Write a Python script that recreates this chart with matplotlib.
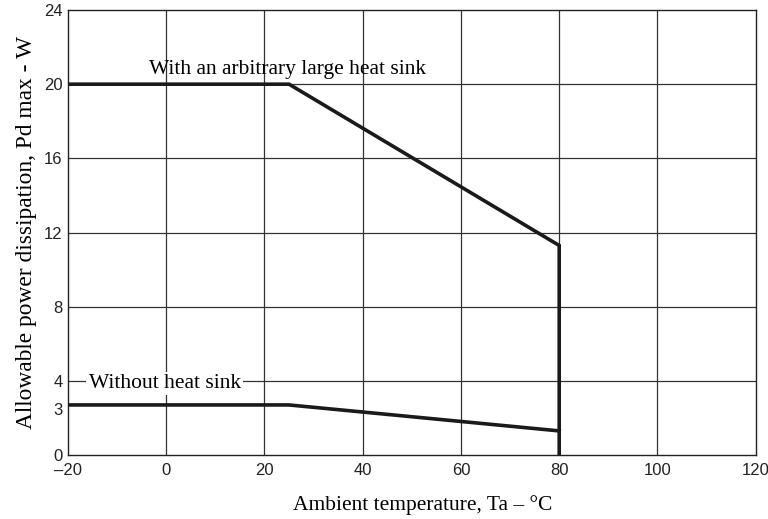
import numpy as np
import matplotlib.pyplot as plt

# derating curves
temp_sink = [-20, 25, 80, 80]
pd_sink = [20, 20, 11.3, 0]
temp_nosink = [-20, 25, 80]
pd_nosink = [2.7, 2.7, 1.3]

xticks = [-20, 0, 20, 40, 60, 80, 100, 120]
xticklabels = ["\u201320", "0", "20", "40", "60", "80", "100", "120"]
yticks = [0, 2.5, 4, 8, 12, 16, 20, 24]
yticklabels = ["0", "3", "4", "8", "12", "16", "20", "24"]

fig = plt.figure(figsize=(7.68, 5.19), dpi=100)
ax = fig.add_axes([0.0885, 0.1233, 0.8955, 0.8574])

for x in [0, 20, 40, 60, 80, 100]:
    ax.axvline(x, color="#333333", lw=0.9, zorder=1)
for y in [4, 8, 12, 16, 20]:
    ax.axhline(y, color="#333333", lw=0.9, zorder=1)

ax.plot(temp_sink, pd_sink, color="#1a1a1a", lw=2.6, solid_joinstyle="miter", zorder=3)
ax.plot(temp_nosink, pd_nosink, color="#1a1a1a", lw=2.6, zorder=3)

ax.set_xlim(-20, 120)
ax.set_ylim(0, 24)
ax.set_xticks(xticks)
ax.set_xticklabels(xticklabels)
ax.set_yticks(yticks)
ax.set_yticklabels(yticklabels)
ax.tick_params(length=0, labelsize=12, labelcolor="#222222")
ax.tick_params(axis="x", pad=6)
ax.tick_params(axis="y", pad=4)
for lab in ax.get_xticklabels() + ax.get_yticklabels():
    lab.set_family("Liberation Sans")

for s in ax.spines.values():
    s.set_color("#222222")
    s.set_linewidth(1.0)

serif = "Liberation Serif"
ax.text(-3.6, 20.8, "With an arbitrary large heat sink", family=serif, fontsize=15.5,
        va="center", ha="left", zorder=4)
ax.text(-15.8, 3.85, "Without heat sink", family=serif, fontsize=15.5, va="center", ha="left",
        bbox=dict(facecolor="white", edgecolor="none", pad=1.5), zorder=4)

ax.set_xlabel("Ambient temperature, Ta \u2013 \u00b0C", family=serif, fontsize=15.5,
              labelpad=12, x=0.516)
ax.set_ylabel("Allowable power dissipation, Pd max - W", family=serif, fontsize=16.8, labelpad=5)

fig.savefig("out.png", dpi=100)
